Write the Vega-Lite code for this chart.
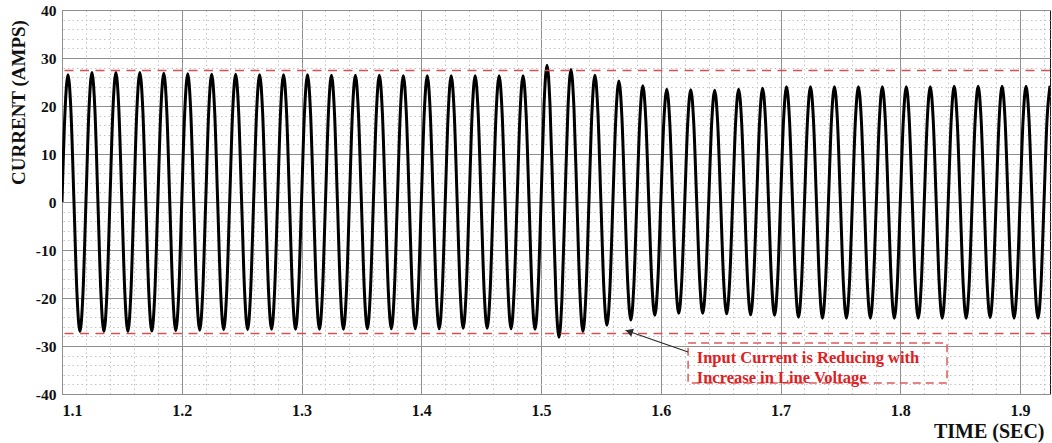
{
  "$schema": "https://vega.github.io/schema/vega-lite/v6.json",
  "width": 988,
  "height": 384,
  "autosize": {"type": "none"},
  "padding": {"left": 62, "top": 10, "right": 2, "bottom": 49},
  "background": "white",
  "config": {
    "view": {"stroke": "#1a1a1a", "strokeWidth": 1},
    "font": "Liberation Serif"
  },
  "datasets": {
    "current": [
      {"t":1.1,"i":0},{"t":1.1025,"i":18.74},{"t":1.105,"i":26.5},{"t":1.1075,"i":18.74},{"t":1.11,"i":0},{"t":1.1125,"i":-19.09},{"t":1.115,"i":-27},{"t":1.1175,"i":-19.09},
      {"t":1.12,"i":0},{"t":1.1225,"i":19.09},{"t":1.125,"i":27},{"t":1.1275,"i":19.09},{"t":1.13,"i":0},{"t":1.1325,"i":-19.09},{"t":1.135,"i":-27},{"t":1.1375,"i":-19.09},
      {"t":1.14,"i":0},{"t":1.1425,"i":19.09},{"t":1.145,"i":27},{"t":1.1475,"i":19.09},{"t":1.15,"i":0},{"t":1.1525,"i":-19.09},{"t":1.155,"i":-27},{"t":1.1575,"i":-19.09},
      {"t":1.16,"i":0},{"t":1.1625,"i":19.09},{"t":1.165,"i":27},{"t":1.1675,"i":19.09},{"t":1.17,"i":0},{"t":1.1725,"i":-19.02},{"t":1.175,"i":-26.9},{"t":1.1775,"i":-19.02},
      {"t":1.18,"i":0},{"t":1.1825,"i":18.95},{"t":1.185,"i":26.8},{"t":1.1875,"i":18.95},{"t":1.19,"i":0},{"t":1.1925,"i":-18.95},{"t":1.195,"i":-26.8},{"t":1.1975,"i":-18.95},
      {"t":1.2,"i":0},{"t":1.2025,"i":18.88},{"t":1.205,"i":26.7},{"t":1.2075,"i":18.88},{"t":1.21,"i":0},{"t":1.2125,"i":-18.88},{"t":1.215,"i":-26.7},{"t":1.2175,"i":-18.88},
      {"t":1.22,"i":0},{"t":1.2225,"i":18.81},{"t":1.225,"i":26.6},{"t":1.2275,"i":18.81},{"t":1.23,"i":0},{"t":1.2325,"i":-18.81},{"t":1.235,"i":-26.6},{"t":1.2375,"i":-18.81},
      {"t":1.24,"i":0},{"t":1.2425,"i":18.81},{"t":1.245,"i":26.6},{"t":1.2475,"i":18.81},{"t":1.25,"i":0},{"t":1.2525,"i":-18.81},{"t":1.255,"i":-26.6},{"t":1.2575,"i":-18.81},
      {"t":1.26,"i":0},{"t":1.2625,"i":18.74},{"t":1.265,"i":26.5},{"t":1.2675,"i":18.74},{"t":1.27,"i":0},{"t":1.2725,"i":-18.74},{"t":1.275,"i":-26.5},{"t":1.2775,"i":-18.74},
      {"t":1.28,"i":0},{"t":1.2825,"i":18.74},{"t":1.285,"i":26.5},{"t":1.2875,"i":18.74},{"t":1.29,"i":0},{"t":1.2925,"i":-18.74},{"t":1.295,"i":-26.5},{"t":1.2975,"i":-18.74},
      {"t":1.3,"i":0},{"t":1.3025,"i":18.74},{"t":1.305,"i":26.5},{"t":1.3075,"i":18.74},{"t":1.31,"i":0},{"t":1.3125,"i":-18.74},{"t":1.315,"i":-26.5},{"t":1.3175,"i":-18.74},
      {"t":1.32,"i":0},{"t":1.3225,"i":18.67},{"t":1.325,"i":26.4},{"t":1.3275,"i":18.67},{"t":1.33,"i":0},{"t":1.3325,"i":-18.74},{"t":1.335,"i":-26.5},{"t":1.3375,"i":-18.74},
      {"t":1.34,"i":0},{"t":1.3425,"i":18.67},{"t":1.345,"i":26.4},{"t":1.3475,"i":18.67},{"t":1.35,"i":0},{"t":1.3525,"i":-18.67},{"t":1.355,"i":-26.4},{"t":1.3575,"i":-18.67},
      {"t":1.36,"i":0},{"t":1.3625,"i":18.67},{"t":1.365,"i":26.4},{"t":1.3675,"i":18.67},{"t":1.37,"i":0},{"t":1.3725,"i":-18.67},{"t":1.375,"i":-26.4},{"t":1.3775,"i":-18.67},
      {"t":1.38,"i":0},{"t":1.3825,"i":18.6},{"t":1.385,"i":26.3},{"t":1.3875,"i":18.6},{"t":1.39,"i":0},{"t":1.3925,"i":-18.67},{"t":1.395,"i":-26.4},{"t":1.3975,"i":-18.67},
      {"t":1.4,"i":0},{"t":1.4025,"i":18.6},{"t":1.405,"i":26.3},{"t":1.4075,"i":18.6},{"t":1.41,"i":0},{"t":1.4125,"i":-18.67},{"t":1.415,"i":-26.4},{"t":1.4175,"i":-18.67},
      {"t":1.42,"i":0},{"t":1.4225,"i":18.6},{"t":1.425,"i":26.3},{"t":1.4275,"i":18.6},{"t":1.43,"i":0},{"t":1.4325,"i":-18.6},{"t":1.435,"i":-26.3},{"t":1.4375,"i":-18.6},
      {"t":1.44,"i":0},{"t":1.4425,"i":18.6},{"t":1.445,"i":26.3},{"t":1.4475,"i":18.6},{"t":1.45,"i":0},{"t":1.4525,"i":-18.6},{"t":1.455,"i":-26.3},{"t":1.4575,"i":-18.6},
      {"t":1.46,"i":0},{"t":1.4625,"i":18.6},{"t":1.465,"i":26.3},{"t":1.4675,"i":18.6},{"t":1.47,"i":0},{"t":1.4725,"i":-18.67},{"t":1.475,"i":-26.4},{"t":1.4775,"i":-18.67},
      {"t":1.48,"i":0},{"t":1.4825,"i":18.6},{"t":1.485,"i":26.3},{"t":1.4875,"i":18.6},{"t":1.49,"i":0},{"t":1.4925,"i":-18.74},{"t":1.495,"i":-26.5},{"t":1.4975,"i":-18.74},
      {"t":1.5,"i":0},{"t":1.5025,"i":20.15},{"t":1.505,"i":28.5},{"t":1.5075,"i":20.15},{"t":1.51,"i":0},{"t":1.5125,"i":-19.94},{"t":1.515,"i":-28.2},{"t":1.5175,"i":-19.94},
      {"t":1.52,"i":0},{"t":1.5225,"i":19.52},{"t":1.525,"i":27.6},{"t":1.5275,"i":19.52},{"t":1.53,"i":0},{"t":1.5325,"i":-19.09},{"t":1.535,"i":-27},{"t":1.5375,"i":-19.09},
      {"t":1.54,"i":0},{"t":1.5425,"i":18.67},{"t":1.545,"i":26.4},{"t":1.5475,"i":18.67},{"t":1.55,"i":0},{"t":1.5525,"i":-18.17},{"t":1.555,"i":-25.7},{"t":1.5575,"i":-18.17},
      {"t":1.56,"i":0},{"t":1.5625,"i":17.82},{"t":1.565,"i":25.2},{"t":1.5675,"i":17.82},{"t":1.57,"i":0},{"t":1.5725,"i":-17.39},{"t":1.575,"i":-24.6},{"t":1.5775,"i":-17.39},
      {"t":1.58,"i":0},{"t":1.5825,"i":17.11},{"t":1.585,"i":24.2},{"t":1.5875,"i":17.11},{"t":1.59,"i":0},{"t":1.5925,"i":-16.69},{"t":1.595,"i":-23.6},{"t":1.5975,"i":-16.69},
      {"t":1.6,"i":0},{"t":1.6025,"i":16.62},{"t":1.605,"i":23.5},{"t":1.6075,"i":16.62},{"t":1.61,"i":0},{"t":1.6125,"i":-16.4},{"t":1.615,"i":-23.2},{"t":1.6175,"i":-16.4},
      {"t":1.62,"i":0},{"t":1.6225,"i":16.55},{"t":1.625,"i":23.4},{"t":1.6275,"i":16.55},{"t":1.63,"i":0},{"t":1.6325,"i":-16.4},{"t":1.635,"i":-23.2},{"t":1.6375,"i":-16.4},
      {"t":1.64,"i":0},{"t":1.6425,"i":16.48},{"t":1.645,"i":23.3},{"t":1.6475,"i":16.48},{"t":1.65,"i":0},{"t":1.6525,"i":-16.48},{"t":1.655,"i":-23.3},{"t":1.6575,"i":-16.48},
      {"t":1.66,"i":0},{"t":1.6625,"i":16.62},{"t":1.665,"i":23.5},{"t":1.6675,"i":16.62},{"t":1.67,"i":0},{"t":1.6725,"i":-16.62},{"t":1.675,"i":-23.5},{"t":1.6775,"i":-16.62},
      {"t":1.68,"i":0},{"t":1.6825,"i":16.76},{"t":1.685,"i":23.7},{"t":1.6875,"i":16.76},{"t":1.69,"i":0},{"t":1.6925,"i":-16.69},{"t":1.695,"i":-23.6},{"t":1.6975,"i":-16.69},
      {"t":1.7,"i":0},{"t":1.7025,"i":16.97},{"t":1.705,"i":24},{"t":1.7075,"i":16.97},{"t":1.71,"i":0},{"t":1.7125,"i":-16.97},{"t":1.715,"i":-24},{"t":1.7175,"i":-16.97},
      {"t":1.72,"i":0},{"t":1.7225,"i":16.97},{"t":1.725,"i":24},{"t":1.7275,"i":16.97},{"t":1.73,"i":0},{"t":1.7325,"i":-17.11},{"t":1.735,"i":-24.2},{"t":1.7375,"i":-17.11},
      {"t":1.74,"i":0},{"t":1.7425,"i":16.97},{"t":1.745,"i":24},{"t":1.7475,"i":16.97},{"t":1.75,"i":0},{"t":1.7525,"i":-17.11},{"t":1.755,"i":-24.2},{"t":1.7575,"i":-17.11},
      {"t":1.76,"i":0},{"t":1.7625,"i":16.97},{"t":1.765,"i":24},{"t":1.7675,"i":16.97},{"t":1.77,"i":0},{"t":1.7725,"i":-17.11},{"t":1.775,"i":-24.2},{"t":1.7775,"i":-17.11},
      {"t":1.78,"i":0},{"t":1.7825,"i":16.97},{"t":1.785,"i":24},{"t":1.7875,"i":16.97},{"t":1.79,"i":0},{"t":1.7925,"i":-17.11},{"t":1.795,"i":-24.2},{"t":1.7975,"i":-17.11},
      {"t":1.8,"i":0},{"t":1.8025,"i":16.97},{"t":1.805,"i":24},{"t":1.8075,"i":16.97},{"t":1.81,"i":0},{"t":1.8125,"i":-17.11},{"t":1.815,"i":-24.2},{"t":1.8175,"i":-17.11},
      {"t":1.82,"i":0},{"t":1.8225,"i":16.97},{"t":1.825,"i":24},{"t":1.8275,"i":16.97},{"t":1.83,"i":0},{"t":1.8325,"i":-17.11},{"t":1.835,"i":-24.2},{"t":1.8375,"i":-17.11},
      {"t":1.84,"i":0},{"t":1.8425,"i":17.04},{"t":1.845,"i":24.1},{"t":1.8475,"i":17.04},{"t":1.85,"i":0},{"t":1.8525,"i":-17.11},{"t":1.855,"i":-24.2},{"t":1.8575,"i":-17.11},
      {"t":1.86,"i":0},{"t":1.8625,"i":17.04},{"t":1.865,"i":24.1},{"t":1.8675,"i":17.04},{"t":1.87,"i":0},{"t":1.8725,"i":-17.04},{"t":1.875,"i":-24.1},{"t":1.8775,"i":-17.04},
      {"t":1.88,"i":0},{"t":1.8825,"i":17.04},{"t":1.885,"i":24.1},{"t":1.8875,"i":17.04},{"t":1.89,"i":0},{"t":1.8925,"i":-17.11},{"t":1.895,"i":-24.2},{"t":1.8975,"i":-17.11},
      {"t":1.9,"i":0},{"t":1.9025,"i":17.04},{"t":1.905,"i":24.1},{"t":1.9075,"i":17.04},{"t":1.91,"i":0},{"t":1.9125,"i":-17.11},{"t":1.915,"i":-24.2},{"t":1.9175,"i":-17.11},
      {"t":1.92,"i":0},{"t":1.9225,"i":17.11},{"t":1.925,"i":24.2}
    ],
    "limits": [{"level": 27.4}, {"level": -27.4}],
    "note_box": [{"t0": 1.6228, "t1": 1.839, "i0": -29.4, "i1": -37.7}],
    "note_text": [
      {"t": 1.63, "i": -33.5, "line": "Input Current is Reducing with"},
      {"t": 1.63, "i": -37.7, "line": "Increase in Line Voltage"}
    ],
    "pointer": [{"t0": 1.6228, "i0": -31.25, "t1": 1.5705, "i1": -26.72}],
    "pointer_head": [{"t": 1.5736, "i": -26.98}]
  },
  "layer": [
    {
      "data": {"name": "note_box"},
      "mark": {"type": "rect", "fill": null, "fillOpacity": 0, "stroke": "#e05a5a", "strokeWidth": 1.5, "strokeDash": [8, 5]},
      "encoding": {
        "x": {
          "field": "t0", "type": "quantitative",
          "scale": {"domain": [1.1, 1.925], "nice": false, "zero": false},
          "axis": {
            "orient": "top", "title": null, "labels": false, "ticks": false, "domain": false,
            "grid": true, "gridColor": "#c4c4c4", "gridDash": [1.5, 3], "gridWidth": 1,
            "values": [1.1,1.12,1.14,1.16,1.18,1.2,1.22,1.24,1.26,1.28,1.3,1.32,1.34,1.36,1.38,1.4,1.42,1.44,1.46,1.48,1.5,1.52,1.54,1.56,1.58,1.6,1.62,1.64,1.66,1.68,1.7,1.72,1.74,1.76,1.78,1.8,1.82,1.84,1.86,1.88,1.9,1.92]
          }
        },
        "x2": {"field": "t1"},
        "y": {
          "field": "i0", "type": "quantitative",
          "scale": {"domain": [-40, 40], "nice": false, "zero": false},
          "axis": {
            "orient": "right", "title": null, "labels": false, "ticks": false, "domain": false,
            "grid": true, "gridColor": "#c4c4c4", "gridDash": [1.5, 3], "gridWidth": 1,
            "values": [-40,-38,-36,-34,-32,-30,-28,-26,-24,-22,-20,-18,-16,-14,-12,-10,-8,-6,-4,-2,0,2,4,6,8,10,12,14,16,18,20,22,24,26,28,30,32,34,36,38,40]
          }
        },
        "y2": {"field": "i1"}
      }
    },
    {
      "data": {"name": "current"},
      "mark": {"type": "line", "color": "#000000", "strokeWidth": 3, "interpolate": "monotone", "clip": true, "strokeJoin": "round"},
      "encoding": {
        "x": {
          "field": "t", "type": "quantitative",
          "scale": {"domain": [1.1, 1.925], "nice": false, "zero": false},
          "axis": {
            "orient": "bottom", "values": [1.1,1.2,1.3,1.4,1.5,1.6,1.7,1.8,1.9], "format": ".1f",
            "grid": true, "gridColor": "#8f8f8f", "gridWidth": 1, "ticks": false, "domain": false,
            "labelFont": "Liberation Serif", "labelFontWeight": "bold", "labelFontSize": 16, "labelColor": "#111111", "labelPadding": 8,
            "title": "TIME (SEC)", "titleFont": "Liberation Serif", "titleFontWeight": "bold", "titleFontSize": 20, "titleColor": "#111111",
            "titleX": 982, "titleY": 43, "titleAlign": "right", "titleBaseline": "alphabetic"
          }
        },
        "y": {
          "field": "i", "type": "quantitative",
          "scale": {"domain": [-40, 40], "nice": false, "zero": false},
          "axis": {
            "orient": "left", "values": [-40,-30,-20,-10,0,10,20,30,40],
            "labelExpr": "datum.value < 0 ? '-' + abs(datum.value) : '' + datum.value",
            "grid": true, "gridColor": "#8f8f8f", "gridWidth": 1, "ticks": false, "domain": false,
            "labelFont": "Liberation Serif", "labelFontWeight": "bold", "labelFontSize": 15.5, "labelColor": "#111111", "labelPadding": 6,
            "title": "CURRENT (AMPS)", "titleFont": "Liberation Serif", "titleFontWeight": "bold", "titleFontSize": 19, "titleColor": "#111111",
            "titleX": -44, "titleY": 92, "titleAngle": -90, "titleAlign": "center", "titleBaseline": "middle"
          }
        }
      }
    },
    {
      "data": {"name": "limits"},
      "mark": {"type": "rule", "color": "#d95050", "strokeWidth": 1.5, "strokeDash": [9, 6.5]},
      "encoding": {
        "y": {"field": "level", "type": "quantitative", "scale": {"domain": [-40, 40], "nice": false, "zero": false}, "axis": null}
      }
    },
    {
      "data": {"name": "pointer"},
      "mark": {"type": "rule", "color": "#2a2a2a", "strokeWidth": 1.3},
      "encoding": {
        "x": {"field": "t0", "type": "quantitative", "scale": {"domain": [1.1, 1.925], "nice": false, "zero": false}, "axis": null},
        "x2": {"field": "t1"},
        "y": {"field": "i0", "type": "quantitative", "scale": {"domain": [-40, 40], "nice": false, "zero": false}, "axis": null},
        "y2": {"field": "i1"}
      }
    },
    {
      "data": {"name": "pointer_head"},
      "mark": {"type": "point", "shape": "triangle-up", "filled": true, "color": "#2a2a2a", "size": 70, "angle": 289, "opacity": 1},
      "encoding": {
        "x": {"field": "t", "type": "quantitative", "scale": {"domain": [1.1, 1.925], "nice": false, "zero": false}, "axis": null},
        "y": {"field": "i", "type": "quantitative", "scale": {"domain": [-40, 40], "nice": false, "zero": false}, "axis": null}
      }
    },
    {
      "data": {"name": "note_text"},
      "mark": {"type": "text", "align": "left", "baseline": "alphabetic", "font": "Liberation Serif", "fontWeight": "bold", "fontSize": 16.5, "color": "#e0201e"},
      "encoding": {
        "x": {"field": "t", "type": "quantitative", "scale": {"domain": [1.1, 1.925], "nice": false, "zero": false}, "axis": null},
        "y": {"field": "i", "type": "quantitative", "scale": {"domain": [-40, 40], "nice": false, "zero": false}, "axis": null},
        "text": {"field": "line"}
      }
    }
  ],
  "resolve": {"axis": {"x": "independent", "y": "independent"}}
}
